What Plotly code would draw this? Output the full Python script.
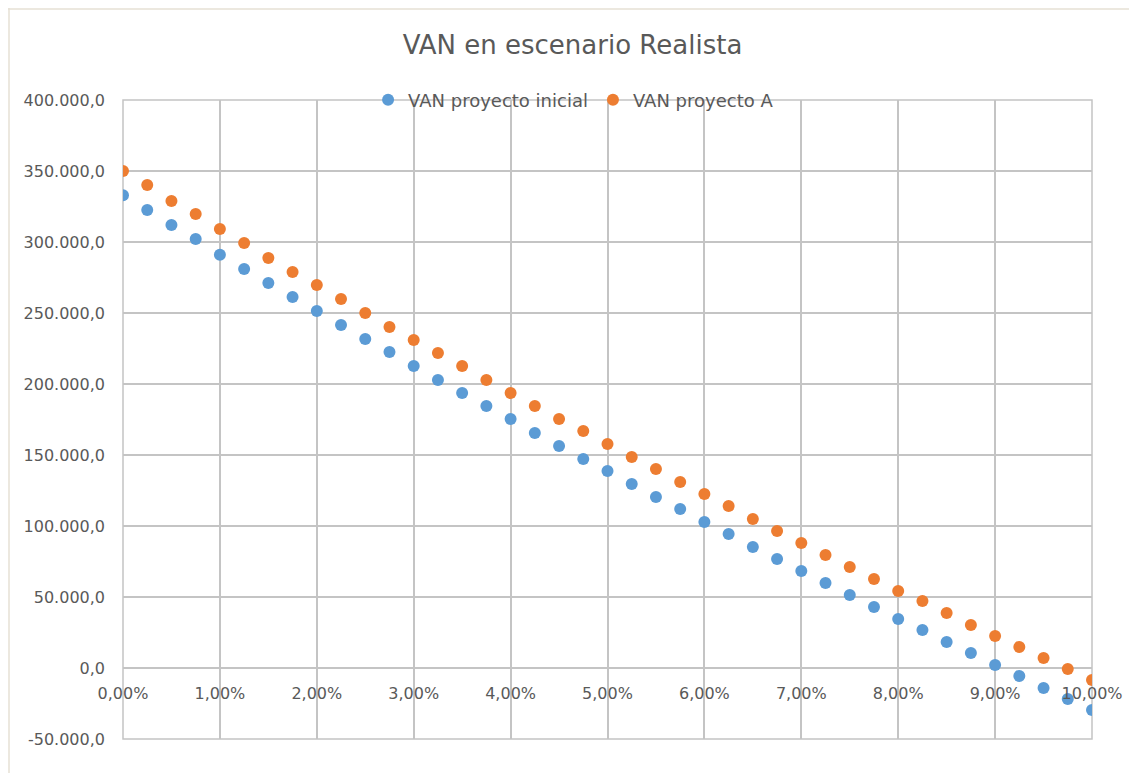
import plotly.graph_objects as go

tasas = [i * 0.0025 for i in range(41)]

van_inicial = [333000, 322500, 312000, 302100, 291000, 281000, 271100, 261300, 251400, 241500,
               231700, 222500, 212700, 202800, 193700, 184500, 175400, 165500, 156300, 147200,
               138700, 129600, 120400, 112000, 102800, 94400, 85200, 76800, 68300, 59900,
               51400, 43000, 34500, 26800, 18300, 10600, 2100, -5600, -14100, -21800, -29600]

van_a = [350000, 340100, 328900, 319700, 309200, 299300, 288700, 278900, 269700, 259900,
         250000, 240100, 231000, 221800, 212700, 202800, 193700, 184500, 175400, 166900,
         157700, 148600, 140100, 131000, 122500, 114100, 104900, 96500, 88000, 79600,
         71100, 62700, 54200, 47200, 38700, 30300, 22500, 14800, 7000, -700, -8500]

y_ticks = [-50000, 0, 50000, 100000, 150000, 200000, 250000, 300000, 350000, 400000]
y_labels = ["-50.000,0", "0,0", "50.000,0", "100.000,0", "150.000,0", "200.000,0",
            "250.000,0", "300.000,0", "350.000,0", "400.000,0"]
x_ticks = [i * 0.01 for i in range(11)]
x_labels = ["0,00%", "1,00%", "2,00%", "3,00%", "4,00%", "5,00%", "6,00%", "7,00%",
            "8,00%", "9,00%", "10,00%"]

font = "DejaVu Sans"
gray = "#595959"
grid = "#C4C4C4"

W, H = 1129, 765
ML, MR, MT, MB = 115, 45, 92, 34
PW, PH = W - ML - MR, H - MT - MB

fig = go.Figure()
fig.add_trace(go.Scatter(x=tasas, y=van_inicial, mode="markers", name="VAN proyecto inicial",
                         marker=dict(color="#5B9BD5", size=12)))
fig.add_trace(go.Scatter(x=tasas, y=van_a, mode="markers", name="VAN proyecto A",
                         marker=dict(color="#ED7D31", size=12)))

fig.update_layout(
    width=W, height=H,
    margin=dict(l=ML, r=MR, t=MT, b=MB),
    paper_bgcolor="white", plot_bgcolor="white",
    title=dict(text="VAN en escenario Realista", x=0.5, xanchor="center",
               y=1 - 37 / H, yanchor="middle",
               font=dict(family=font, size=26, color=gray)),
    legend=dict(orientation="h", x=0.465, xanchor="center", y=1.0, yanchor="middle",
                bgcolor="rgba(0,0,0,0)", font=dict(family=font, size=18, color=gray),
                itemsizing="constant", itemwidth=30, tracegroupgap=0),
    xaxis=dict(range=[0, 0.1], tickvals=x_ticks, ticktext=x_labels,
               showgrid=True, gridcolor=grid, gridwidth=1.5, zeroline=False,
               showline=False, anchor="free", position=50000 / 450000,
               ticks="", ticklabelstandoff=14,
               tickfont=dict(family=font, size=16, color=gray)),
    yaxis=dict(range=[-50000, 400000], tickvals=y_ticks, ticktext=y_labels,
               showgrid=True, gridcolor=grid, gridwidth=1.5, zeroline=False,
               showline=False, ticks="", ticklabelstandoff=17,
               tickfont=dict(family=font, size=16, color=gray)),
)

# plot-area border (edge gridlines)
fig.add_shape(type="rect", xref="paper", yref="paper", x0=0, x1=1, y0=0, y1=1,
              line=dict(color=grid, width=1.5), layer="below")

# faint outer chart frame
fig.add_shape(type="line", xref="paper", yref="paper",
              x0=-ML / PW, x1=(PW + MR) / PW, y0=(PH + MT - 1) / PH, y1=(PH + MT - 1) / PH,
              line=dict(color="#E6E1D5", width=1.5))
fig.add_shape(type="line", xref="paper", yref="paper",
              x0=(-ML + 1) / PW, x1=(-ML + 1) / PW, y0=-MB / PH, y1=(PH + MT) / PH,
              line=dict(color="#E6E1D5", width=1.5))

fig.write_html("out.html")
